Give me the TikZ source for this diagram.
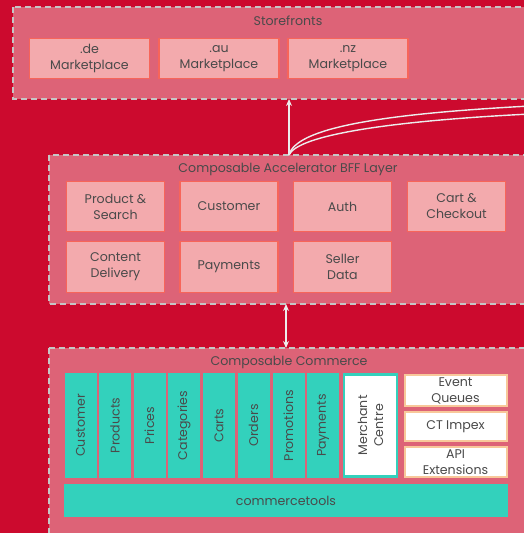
\documentclass[tikz,border=0pt]{standalone}
\usepackage{fontspec}
\setmainfont{Poppins}
\usetikzlibrary{arrows.meta}

\definecolor{crimson}{HTML}{CC0A2E}
\definecolor{layerpink}{HTML}{DD6377}
\definecolor{svcfill}{HTML}{F3AAAD}
\definecolor{svcline}{HTML}{F7655A}
\definecolor{ctteal}{HTML}{33D1BC}
\definecolor{dashgrey}{HTML}{C6C6C6}
\definecolor{toolline}{HTML}{F8C89A}
\definecolor{inktext}{HTML}{4A4A4A}
\definecolor{wirewhite}{HTML}{EDEDED}

\begin{document}
\begin{tikzpicture}[x=1pt,y=-1pt,
	every node/.style={inner sep=0pt,text=inktext,font=\fontsize{12.6}{16}\selectfont,align=center},
	layer/.style={fill=layerpink,draw=dashgrey,line width=1.6pt,dash pattern=on 6pt off 4pt},
	svc/.style={fill=svcfill,draw=svcline,line width=1.6pt},
	ctcol/.style={fill=ctteal,minimum width=105pt,minimum height=32pt,rotate=90},
	tool/.style={fill=white,draw=toolline,line width=2pt,minimum width=102pt},
	wire/.style={wirewhite,line width=1.4pt}
	]
	\useasboundingbox (0,0) rectangle (524,533);
	\clip (0,0) rectangle (524,533);
	\fill[crimson] (0,0) rectangle (524,533);

	% layers, running off the right edge
	\draw[layer] (13,7) rectangle (560,99);
	\draw[layer] (49,155) rectangle (560,304);
	\draw[layer] (49,348) rectangle (560,560);
	\node (storeT) at (288,21) {Storefronts};
	\node (bffT) at (288,169) {Composable Accelerator BFF Layer};
	\node (ccT) at (289,362) {Composable Commerce};

	% storefronts
	\node[svc,minimum width=120pt,minimum height=40pt] (de) at (89.5,58.5) {.de\\Marketplace};
	\node[svc,minimum width=120pt,minimum height=40pt] (au) at (219,58.5) {.au\\Marketplace};
	\node[svc,minimum width=120pt,minimum height=40pt] (nz) at (348,58.5) {.nz\\Marketplace};

	% BFF services
	\node[svc,minimum width=98pt,minimum height=50pt] (prod) at (115.5,206.5) {Product \&\\Search};
	\node[svc,minimum width=98pt,minimum height=50pt] (cust) at (229,206.5) {Customer};
	\node[svc,minimum width=98pt,minimum height=50pt] (auth) at (342.5,206.5) {Auth};
	\node[svc,minimum width=98pt,minimum height=50pt] (cart) at (456.5,206.5) {Cart \&\\Checkout};
	\node[svc,minimum width=98pt,minimum height=51pt] (cont) at (115.5,267) {Content\\Delivery};
	\node[svc,minimum width=98pt,minimum height=51pt] (pay) at (229,267) {Payments};
	\node[svc,minimum width=98pt,minimum height=51pt] (sell) at (342.5,267) {Seller\\Data};

	% commercetools APIs
	\node[ctcol] (cCust) at (80.5,425.5) {Customer};
	\node[ctcol] (cProd) at (115,425.5) {Products};
	\node[ctcol] (cPric) at (149.5,425.5) {Prices};
	\node[ctcol] (cCat) at (184,425.5) {Categories};
	\node[ctcol] (cCart) at (219,425.5) {Carts};
	\node[ctcol] (cOrd) at (253.5,425.5) {Orders};
	\node[ctcol] (cProm) at (288.5,425.5) {Promotions};
	\node[ctcol] (cPay) at (323,425.5) {Payments};
	\node[fill=white,draw=ctteal,line width=2.5pt,minimum width=102pt,minimum height=53pt,rotate=90] (merch) at (370.5,425.5) {Merchant\\Centre};
	\node[tool,minimum height=31pt] (evq) at (455.5,390.5) {Event\\Queues};
	\node[tool,minimum height=29pt] (impx) at (455.5,426.5) {CT Impex};
	\node[tool,minimum height=30pt] (apix) at (455.5,462) {API\\Extensions};
	\node[fill=ctteal,minimum width=444pt,minimum height=33pt] (ctools) at (286,500.5) {commercetools};

	% connectors
	\coordinate (bffTop) at (289,155);
	\coordinate (sfBot) at (289,99);
	\coordinate (bffBot) at (286,304);
	\coordinate (ccTop) at (286,348);
	\coordinate (offA) at (530,106);
	\coordinate (offB) at (530,114);
	\draw[wire,-{Stealth[length=7pt,width=6pt]}] (bffTop) -- (sfBot);
	\draw[wire] (bffTop) .. controls (296,128) and (380,114) .. (offA);
	\draw[wire] (bffTop) .. controls (298,135) and (390,121) .. (offB);
	\draw[wire,{Stealth[length=7pt,width=6pt]}-{Stealth[length=7pt,width=6pt]}] (bffBot) -- (ccTop);
\end{tikzpicture}
\end{document}
